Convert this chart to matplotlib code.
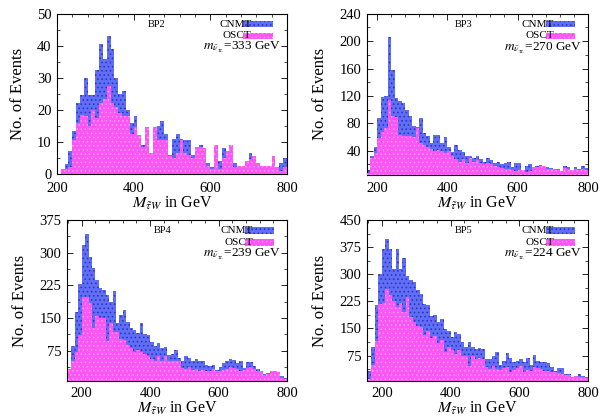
import numpy as np
import matplotlib
matplotlib.use("Agg")
import matplotlib.pyplot as plt
from matplotlib.ticker import MultipleLocator, AutoMinorLocator
from matplotlib.patches import Rectangle

plt.rcParams['font.family'] = ['Liberation Serif', 'DejaVu Serif']
plt.rcParams['mathtext.fontset'] = 'stix'

# 10 GeV bins, events per bin
bp2_start = 200
bp2_cnmt = [0, 1.5, 3, 7, 13.5, 22, 24.5, 30, 24.5, 24.5, 32.5, 40.5, 36, 43, 39,
            30, 25, 26, 20, 16, 18, 12, 9, 12.5, 6.5, 14.5, 15, 16.5, 12.5, 6,
            11, 12.5, 11, 10.5, 10.5, 6, 8, 9, 6.5, 3.5, 2, 4, 4, 8, 6,
            9, 3.5, 2.5, 2.5, 3.5, 6.5, 5.5, 3.5, 2.5, 2.5, 2.5, 5.5, 2, 3.5, 5]
bp2_osct = [0, 1.5, 1.5, 2, 10.5, 16, 18.5, 18, 15, 20, 17.5, 22, 23.5, 27.5, 22,
            21, 19, 18, 18, 12.5, 14.5, 12, 8.5, 14.5, 6.5, 14.5, 10.5, 10.5, 10.5, 5.5,
            5, 6.5, 10.5, 6.5, 6, 5, 8.5, 8.5, 8, 2.5, 1.5, 9, 1.5, 5, 7,
            9, 2, 2.5, 2.5, 4, 4.5, 5.5, 3.5, 2.5, 2.5, 2.5, 5.5, 2, 1, 2]

bp3_start = 170
bp3_cnmt = [12, 33, 46, 88, 118, 120, 206, 158, 117, 113, 109, 100, 91, 76, 75,
            88, 66, 62, 51, 63, 63, 52, 60, 46, 38, 49, 41, 38, 32, 33,
            29, 32, 28, 24, 30, 27, 22, 23, 20, 22, 24, 17, 22, 22, 12, 18,
            20, 14, 18, 19, 13, 16, 15, 14, 13, 10, 18, 17, 12, 16, 14, 18, 15]
bp3_osct = [8, 29, 37, 58, 67, 73, 114, 91, 90, 63, 61, 61, 61, 60, 73,
            51, 49, 45, 42, 40, 41, 40, 37, 39, 32, 28, 24, 28, 22, 29,
            24, 26, 22, 21, 22, 20, 18, 17, 15, 14, 13, 12, 10, 12, 12, 9,
            10, 17, 17, 18, 18, 14, 14, 13, 12, 10, 15, 14, 12, 13, 12, 13, 12]

bp4_start = 160
bp4_cnmt = [34, 85, 165, 228, 318, 344, 291, 266, 238, 219, 215, 203, 188, 212, 138, 157,
            169, 142, 127, 123, 115, 138, 113, 112, 96, 85, 93, 81, 83, 66, 67, 77,
            58, 51, 62, 58, 51, 57, 51, 52, 43, 39, 43, 31, 37, 47, 52, 57,
            54, 47, 51, 35, 49, 49, 39, 34, 28, 22, 24, 29, 28, 26, 16, 12]
bp4_osct = [34, 52, 72, 112, 199, 199, 184, 127, 154, 150, 150, 98, 138, 118, 119, 102,
            100, 89, 81, 73, 77, 73, 67, 62, 57, 52, 62, 52, 62, 51, 52, 51,
            51, 35, 34, 37, 31, 34, 28, 31, 28, 28, 34, 28, 28, 31, 34, 37,
            35, 34, 28, 31, 35, 37, 34, 29, 28, 20, 22, 28, 28, 26, 12, 9]

bp5_start = 160
bp5_cnmt = [31, 98, 216, 302, 371, 397, 371, 316, 371, 316, 344, 295, 283, 279, 256, 246,
            219, 214, 184, 188, 169, 175, 149, 144, 126, 140, 135, 112, 98, 112, 98, 94,
            95, 94, 66, 64, 75, 86, 49, 61, 82, 68, 58, 61, 66, 56, 68, 49,
            77, 61, 58, 56, 55, 43, 33, 40, 40, 24, 24, 15, 19, 24, 18, 15]
bp5_osct = [10, 49, 114, 218, 221, 260, 242, 225, 209, 221, 195, 237, 181, 169, 158, 154,
            132, 142, 123, 129, 110, 119, 84, 98, 89, 80, 89, 75, 75, 47, 75, 66,
            68, 66, 43, 38, 45, 38, 36, 40, 43, 29, 36, 40, 45, 29, 36, 33,
            43, 40, 38, 33, 31, 29, 29, 27, 24, 21, 21, 15, 18, 15, 15, 12]

labels = ["BP2", "BP3", "BP4", "BP5"]
masses = [333, 270, 239, 224]
starts = [bp2_start, bp3_start, bp4_start, bp5_start]
cnmt_all = [bp2_cnmt, bp3_cnmt, bp4_cnmt, bp5_cnmt]
osct_all = [bp2_osct, bp3_osct, bp4_osct, bp5_osct]
xlims = [(200, 800), (171, 800), (157, 800), (157, 800)]
ylims = [(0, 50), (5, 240), (5, 375), (4, 450)]
yticks = [10, 40, 75, 75]
ytick_start = [0, 40, 75, 75]

BLUE = '#5f6ef2'
BLUE_DOT = '#2a2fc8'
MAG = '#fb55f5'
MAG_DOT = '#ff9cf5'

# axes boxes in figure fraction (left, bottom, width, height)
boxes = [(0.0948, 0.583, 0.3827, 0.384),
         (0.6106, 0.581, 0.3678, 0.386),
         (0.1115, 0.086, 0.366, 0.386),
         (0.6106, 0.086, 0.3678, 0.386)]

fig = plt.figure(figsize=(6.01, 4.17), dpi=100)
plt.rcParams['hatch.linewidth'] = 0.6

for i in range(4):
    ax = fig.add_axes(boxes[i])
    cn = np.array(cnmt_all[i])
    os_ = np.array(osct_all[i])
    x = starts[i] + 10 * np.arange(len(cn))
    ax.bar(x, cn, width=10, align='edge', color=BLUE, edgecolor=BLUE_DOT,
           hatch='....', linewidth=0, zorder=2)
    ax.bar(x, os_, width=10, align='edge', color=MAG, edgecolor=MAG_DOT,
           hatch='....', linewidth=0, zorder=3)
    ax.set_xlim(*xlims[i])
    ax.set_ylim(*ylims[i])
    ax.xaxis.set_major_locator(MultipleLocator(200))
    ax.xaxis.set_minor_locator(AutoMinorLocator(5))
    ax.set_yticks(np.arange(ytick_start[i], ylims[i][1] + 1, yticks[i]))
    ax.yaxis.set_minor_locator(AutoMinorLocator(2))
    ax.tick_params(which='both', direction='in', top=True, right=True,
                   labelsize=10.5)
    ax.tick_params(axis='x', pad=5.5 if i < 2 else 4)
    ax.tick_params(axis='y', pad=4)
    ax.tick_params(which='major', length=4, width=0.6)
    ax.tick_params(which='minor', length=2, width=0.5)
    for s in ax.spines.values():
        s.set_linewidth(0.8)
    ax.set_xlabel(r"$M_{\tilde{\tau}W}$ in GeV", fontsize=11.5, labelpad=0)
    ax.set_ylabel("No. of Events", fontsize=12, labelpad=8)

    # gnuplot style key: text then sample box
    ax.text(0.395, 0.935, labels[i], transform=ax.transAxes, fontsize=7.5,
            ha='left', va='center', zorder=5)
    ax.text(0.845, 0.935, "CNMT", transform=ax.transAxes, fontsize=8,
            ha='right', va='center', zorder=5)
    ax.add_patch(Rectangle((0.81, 0.915), 0.13, 0.04, transform=ax.transAxes,
                           facecolor=BLUE, edgecolor=BLUE_DOT, hatch='....',
                           linewidth=0, zorder=4))
    ax.text(0.845, 0.862, "OSCT", transform=ax.transAxes, fontsize=8,
            ha='right', va='center', zorder=5)
    ax.add_patch(Rectangle((0.81, 0.842), 0.13, 0.04, transform=ax.transAxes,
                           facecolor=MAG, edgecolor=MAG_DOT, hatch='....',
                           linewidth=0, zorder=4))
    ax.text(0.975, 0.79, r"$m_{\tilde{\nu}_{\tau_L}}$=" + f"{masses[i]} GeV",
            transform=ax.transAxes, fontsize=9.5, ha='right', va='center', zorder=5)

fig.savefig("out.png", dpi=100)
